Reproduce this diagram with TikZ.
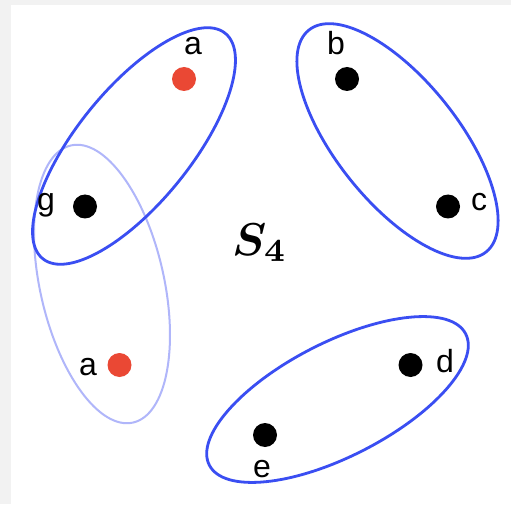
\documentclass[tikz,border=0pt]{standalone}
\usepackage{fontspec}
\usepackage{amsmath,bm}
\newfontfamily\labfont{Liberation Sans}
\definecolor{bgray}{RGB}{242,242,242}
\definecolor{ringblue}{RGB}{58,78,242}
\definecolor{ringlight}{RGB}{176,182,250}
\definecolor{dotred}{RGB}{234,72,52}
\tikzset{
  ring/.style={draw=ringblue, line width=2.8pt},
  lightring/.style={draw=ringlight, line width=2pt},
  blackdot/.style={circle, fill=black, inner sep=0pt, minimum size=24pt},
  reddot/.style={circle, fill=dotred, inner sep=0pt, minimum size=24pt},
  lab/.style={anchor=base, inner sep=0pt, font=\labfont\fontsize{32}{32}\selectfont}
}
\begin{document}
\begin{tikzpicture}[x=1pt,y=1pt]
\useasboundingbox (0,0) rectangle (511,504);
\fill[bgray] (0,0) rectangle (511,504);
\fill[white] (11,0) rectangle (511,499);
% rings
\draw[lightring, rotate around={102.6:(102,220)}] (102,220) ellipse [x radius=142pt, y radius=62pt];
\draw[ring, rotate around={51:(134,358)}] (134,358) ellipse [x radius=145pt, y radius=57pt];
\draw[ring, rotate around={-51.4:(397.5,363)}] (397.5,363) ellipse [x radius=142pt, y radius=61pt];
\draw[ring, rotate around={27.1:(337.5,104.5)}] (337.5,104.5) ellipse [x radius=144pt, y radius=57pt];
% dots
\node[reddot] (a1) at (184,425) {};
\node[blackdot] (b) at (347,425) {};
\node[blackdot] (c) at (448,297.5) {};
\node[blackdot] (g) at (85,297.5) {};
\node[reddot] (a2) at (119.5,139) {};
\node[blackdot] (d) at (410.5,139) {};
\node[blackdot] (e) at (265,69) {};
% labels
\node[lab] (la1) at (193,449) {a};
\node[lab] (lb) at (336,449) {b};
\node[lab] (lc) at (479,293) {c};
\node[lab] (lg) at (46,293) {g};
\node[lab] (la2) at (88,129) {a};
\node[lab] (ld) at (445,132) {d};
\node[lab] (le) at (262,27) {e};
% title
\node[anchor=base west, inner sep=0pt] (s4) at (232,249) {\scalebox{4.6}{$\boldsymbol{S_4}$}};
\end{tikzpicture}
\end{document}
